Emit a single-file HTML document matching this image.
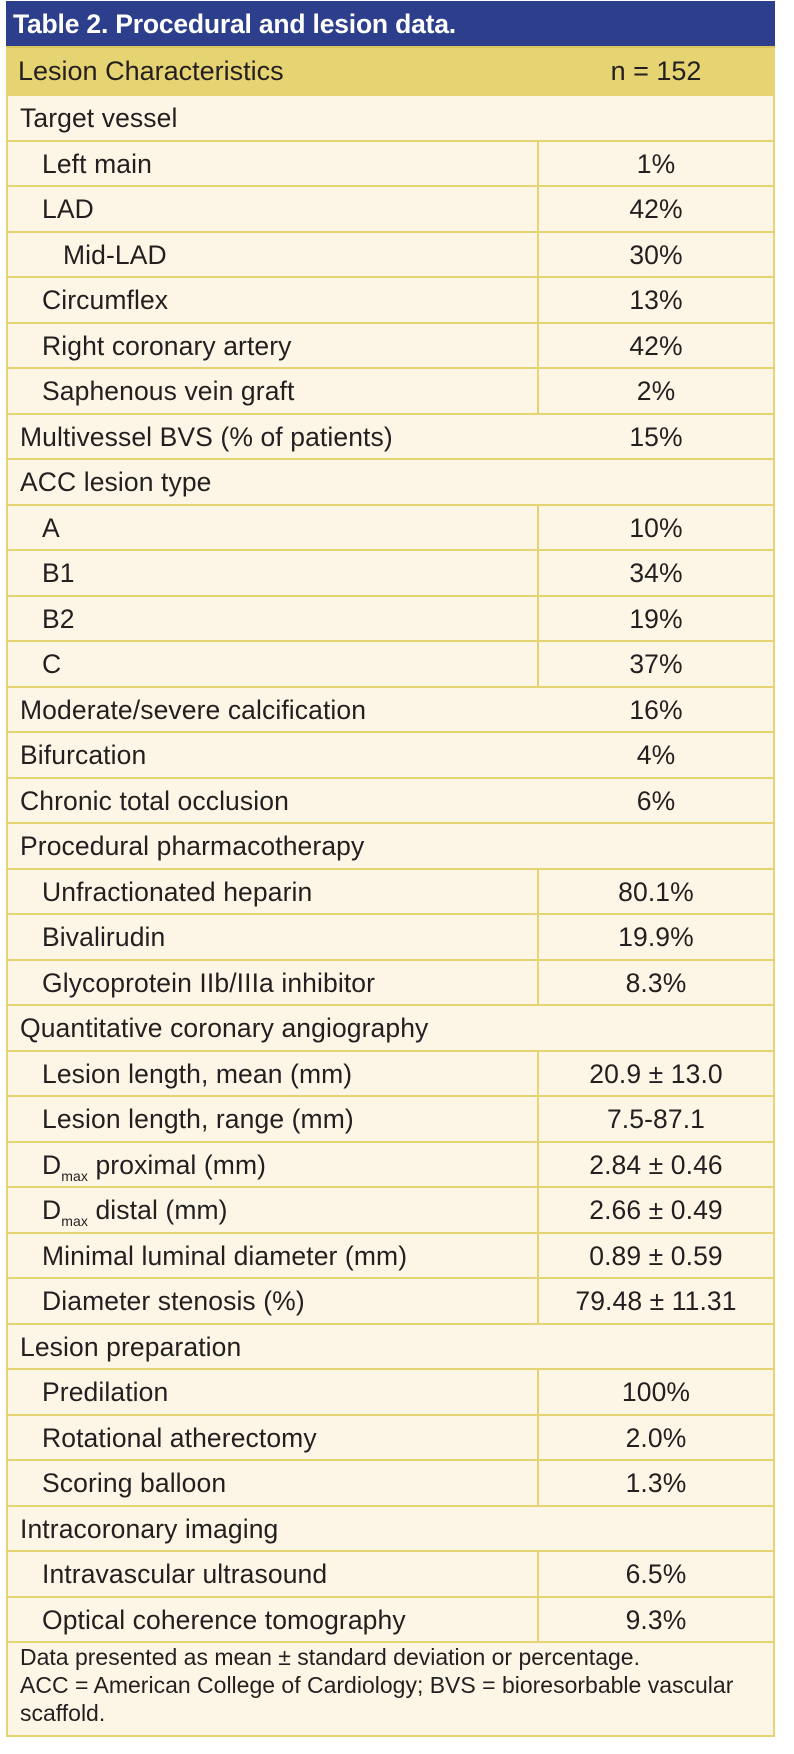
<!DOCTYPE html>
<html><head><meta charset="utf-8"><style>
body{margin:0;width:794px;height:1754px;background:#fff;font-family:"Liberation Sans",sans-serif;color:#231f20;}
#t{position:absolute;left:6px;top:1px;width:769px;}
.title{height:47px;background:#2c3e8c;color:#fff;font-weight:bold;font-size:26.5px;line-height:47px;padding-left:7px;border-bottom:2px solid #d9c65c;box-sizing:border-box;letter-spacing:-0.2px;}
.hdr{height:46px;background:#e6d372;display:flex;font-size:27px;line-height:46px;}
.r{height:45.5px;background:#fdf6e6;display:flex;font-size:26.5px;line-height:44px;border-top:2px solid #e6d372;border-left:2px solid #e6d372;border-right:2px solid #e6d372;box-sizing:border-box;letter-spacing:0.1px;}
.l{width:531px;box-sizing:border-box;padding-left:12px;white-space:nowrap;}
.v{flex:1;text-align:center;}
.s .l{border-right:2px solid #e6d372;padding-left:34px;}
.s3 .l{padding-left:55px;}
.foot{background:#fdf6e6;border:2px solid #e6d372;font-size:23px;line-height:28px;padding:0 12px 0;height:96px;box-sizing:border-box;white-space:nowrap;}
sub{font-size:14px;vertical-align:-7px;line-height:0;}
</style></head><body>
<div id="t">
<div class="title">Table 2. Procedural and lesion data.</div>
<div class="hdr"><div class="l" style="padding-left:12px">Lesion Characteristics</div><div class="v">n = 152</div></div>
<div class="r"><div class="l">Target vessel</div><div class="v"></div></div>
<div class="r s"><div class="l">Left main</div><div class="v">1%</div></div>
<div class="r s"><div class="l">LAD</div><div class="v">42%</div></div>
<div class="r s s3"><div class="l">Mid-LAD</div><div class="v">30%</div></div>
<div class="r s"><div class="l">Circumflex</div><div class="v">13%</div></div>
<div class="r s"><div class="l">Right coronary artery</div><div class="v">42%</div></div>
<div class="r s"><div class="l">Saphenous vein graft</div><div class="v">2%</div></div>
<div class="r"><div class="l">Multivessel BVS (% of patients)</div><div class="v">15%</div></div>
<div class="r"><div class="l">ACC lesion type</div><div class="v"></div></div>
<div class="r s"><div class="l">A</div><div class="v">10%</div></div>
<div class="r s"><div class="l">B1</div><div class="v">34%</div></div>
<div class="r s"><div class="l">B2</div><div class="v">19%</div></div>
<div class="r s"><div class="l">C</div><div class="v">37%</div></div>
<div class="r"><div class="l">Moderate/severe calcification</div><div class="v">16%</div></div>
<div class="r"><div class="l">Bifurcation</div><div class="v">4%</div></div>
<div class="r"><div class="l">Chronic total occlusion</div><div class="v">6%</div></div>
<div class="r"><div class="l">Procedural pharmacotherapy</div><div class="v"></div></div>
<div class="r s"><div class="l">Unfractionated heparin</div><div class="v">80.1%</div></div>
<div class="r s"><div class="l">Bivalirudin</div><div class="v">19.9%</div></div>
<div class="r s"><div class="l">Glycoprotein IIb/IIIa inhibitor</div><div class="v">8.3%</div></div>
<div class="r"><div class="l">Quantitative coronary angiography</div><div class="v"></div></div>
<div class="r s"><div class="l">Lesion length, mean (mm)</div><div class="v">20.9 ± 13.0</div></div>
<div class="r s"><div class="l">Lesion length, range (mm)</div><div class="v">7.5-87.1</div></div>
<div class="r s"><div class="l">D<sub>max</sub> proximal (mm)</div><div class="v">2.84 ± 0.46</div></div>
<div class="r s"><div class="l">D<sub>max</sub> distal (mm)</div><div class="v">2.66 ± 0.49</div></div>
<div class="r s"><div class="l">Minimal luminal diameter (mm)</div><div class="v">0.89 ± 0.59</div></div>
<div class="r s"><div class="l">Diameter stenosis (%)</div><div class="v">79.48 ± 11.31</div></div>
<div class="r"><div class="l">Lesion preparation</div><div class="v"></div></div>
<div class="r s"><div class="l">Predilation</div><div class="v">100%</div></div>
<div class="r s"><div class="l">Rotational atherectomy</div><div class="v">2.0%</div></div>
<div class="r s"><div class="l">Scoring balloon</div><div class="v">1.3%</div></div>
<div class="r"><div class="l">Intracoronary imaging</div><div class="v"></div></div>
<div class="r s"><div class="l">Intravascular ultrasound</div><div class="v">6.5%</div></div>
<div class="r s"><div class="l">Optical coherence tomography</div><div class="v">9.3%</div></div>
<div class="foot">Data presented as mean ± standard deviation or percentage.<br>ACC = American College of Cardiology; BVS = bioresorbable vascular<br>scaffold.</div>
</div>
</body></html>
